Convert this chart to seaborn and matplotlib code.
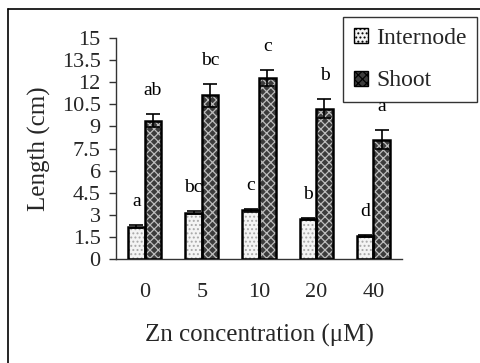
import numpy as np
import pandas as pd
import matplotlib
matplotlib.use("Agg")
import matplotlib.pyplot as plt
import seaborn as sns
from matplotlib.patches import Rectangle, Patch
from matplotlib.lines import Line2D

# ---- data ----
concentrations = ["0", "5", "10", "20", "40"]
internode = [2.2, 3.15, 3.3, 2.7, 1.55]
internode_err = [0.1, 0.1, 0.1, 0.07, 0.07]
shoot = [9.4, 11.1, 12.3, 10.2, 8.1]
shoot_err = [0.45, 0.8, 0.55, 0.65, 0.65]
internode_letters = ["a", "bc", "c", "b", "d"]
shoot_letters = ["ab", "bc", "c", "b", "a"]
yticks = [0, 1.5, 3, 4.5, 6, 7.5, 9, 10.5, 12, 13.5, 15]

sns.set_style("white")
plt.rcParams["font.family"] = ["Liberation Serif", "DejaVu Serif"]
plt.rcParams["hatch.linewidth"] = 0.9

df = pd.DataFrame({
    "conc": concentrations * 2,
    "length": internode + shoot,
    "part": ["Internode"] * 5 + ["Shoot"] * 5,
})

fig = plt.figure(figsize=(4.8, 3.63), dpi=100)
ax = fig.add_axes([116 / 480, 1 - 259 / 363, (402 - 116) / 480, (259 - 38) / 363])

sns.barplot(data=df, x="conc", y="length", hue="part", order=concentrations,
            hue_order=["Internode", "Shoot"], width=0.58, errorbar=None,
            ax=ax, legend=False)

styles = {
    "Internode": dict(fc="#f4f4f4", hatch="....", hc="#a8a8a8"),
    "Shoot": dict(fc="#3c3c3c", hatch="xxxx", hc="#bdbdbd"),
}
errs = {"Internode": internode_err, "Shoot": shoot_err}
vals = {"Internode": internode, "Shoot": shoot}
letters = {"Internode": internode_letters, "Shoot": shoot_letters}

for cont, name in zip(ax.containers, ["Internode", "Shoot"]):
    st = styles[name]
    for i, bar in enumerate(cont):
        bar.set_facecolor(st["fc"])
        bar.set_hatch(st["hatch"])
        bar.set_edgecolor(st["hc"])
        bar.set_linewidth(0)
        x, w, h = bar.get_x(), bar.get_width(), bar.get_height()
        ax.add_patch(Rectangle((x, 0), w, h, fill=False, ec="black", lw=1.8, zorder=3))
        xc = x + w / 2
        e = errs[name][i]
        ax.errorbar(xc, vals[name][i], yerr=[[e], [e]], fmt="none", ecolor="black",
                    elinewidth=1.2, capsize=5, capthick=1.2, zorder=4)
        ax.text(xc, vals[name][i] + e + 1.6, letters[name][i], ha="center", va="center",
                fontsize=14, color="black")

ax.set_ylim(0, 15)
ax.set_xlim(-0.5, 4.5)
ax.set_yticks(yticks)
ax.set_yticklabels([f"{v:g}" for v in yticks], fontsize=16)
ax.set_xticks(range(5))
ax.set_xticklabels(concentrations, fontsize=16)
ax.set_xticks(np.arange(-0.5, 5, 1.0), minor=True)
ax.tick_params(axis="x", which="major", length=0, pad=17)
ax.tick_params(axis="x", which="minor", length=5, width=1, direction="out", color="#333333")
ax.tick_params(axis="y", length=5, width=1, direction="out", color="#333333", pad=6, left=True)
for s in ["top", "right"]:
    ax.spines[s].set_visible(False)
for s in ["left", "bottom"]:
    ax.spines[s].set_color("#333333")
    ax.spines[s].set_linewidth(1)

ax.set_xlabel("Zn concentration (μM)", fontsize=18, labelpad=16)
ax.set_ylabel("Length (cm)", fontsize=18, labelpad=8)

handles = [Patch(facecolor=styles[n]["fc"], hatch=styles[n]["hatch"],
                 edgecolor="black", lw=1) for n in ["Internode", "Shoot"]]
leg = fig.legend(handles, ["Internode", "Shoot"], loc="upper left",
                 bbox_to_anchor=(343 / 480, 1 - 17 / 363), fontsize=17,
                 frameon=True, fancybox=False, edgecolor="black",
                 handlelength=0.6, handleheight=0.6, handletextpad=0.35,
                 borderpad=0.45, labelspacing=0.92, borderaxespad=0)
leg.get_frame().set_linewidth(1)

# outer chart border
fig.add_artist(Line2D([8 / 480, 8 / 480], [0, 1 - 9 / 363], transform=fig.transFigure,
                      color="black", lw=1.2))
fig.add_artist(Line2D([8 / 480, 1], [1 - 9 / 363, 1 - 9 / 363], transform=fig.transFigure,
                      color="black", lw=1.2))

fig.savefig("out.png", dpi=100)
